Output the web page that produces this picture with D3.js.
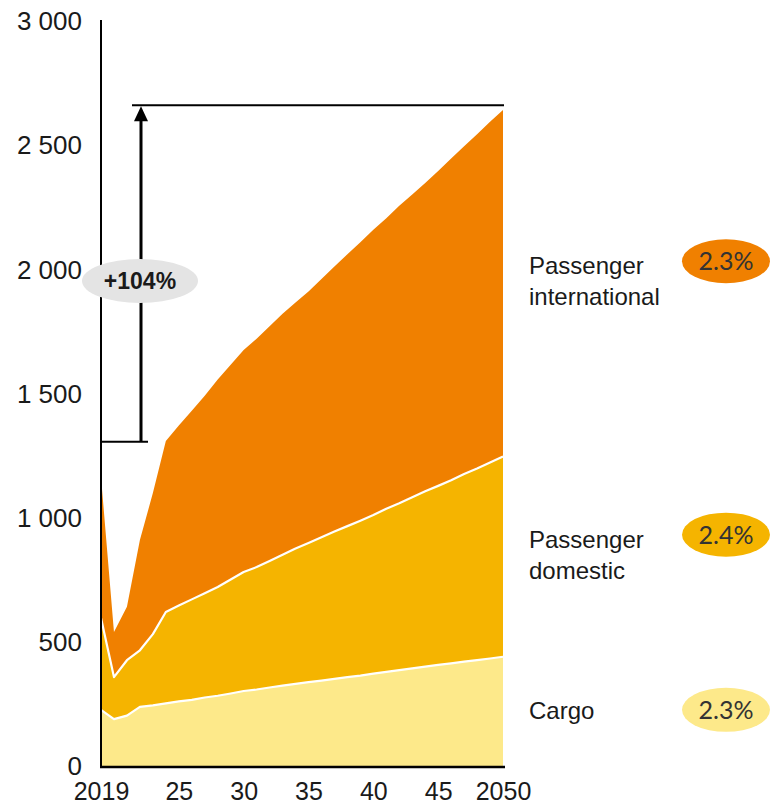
<!DOCTYPE html>
<meta charset="utf-8">
<style>
    html, body { margin:0; padding:0; overflow:hidden; background:#fff }
    text { font-family: Arial, "Liberation Sans", sans-serif; fill:#1a1a1a }
</style>
<svg id="mainsvg" width="770" height="806"></svg>
<script src="https://cdn.jsdelivr.net/npm/d3@7"></script>
<script>

    // values
    var years = d3.range(2019, 2051);

    var cargo = [230, 193, 207, 242, 248, 256, 264, 270, 280, 287, 296, 306, 312, 320, 328, 335,
                 342, 348, 355, 362, 368, 376, 383, 390, 397, 404, 411, 417, 424, 430, 437, 444];

    var domestic = [370, 169, 223, 228, 287, 368, 386, 405, 420, 438, 459, 479, 493, 510, 527, 545,
                    560, 577, 593, 608, 624, 639, 657, 672, 689, 706, 721, 738, 756, 772, 789, 806];

    var international = [568, 182, 215, 444, 568, 689, 725, 760, 795, 835, 865, 894, 920, 945, 970, 990,
                         1013, 1040, 1067, 1095, 1121, 1148, 1170, 1198, 1219, 1242, 1268, 1295, 1320, 1346, 1372, 1396];

    var seriesKeys = ["cargo", "domestic", "international"];
    var seriesLabels = [["Cargo"], ["Passenger", "domestic"], ["Passenger", "international"]];
    var seriesGrowth = ["2.3%", "2.4%", "2.3%"];
    var seriesColors = ["#FDE98A", "#F5B400", "#F08000"];

    var yTicks = [0, 500, 1000, 1500, 2000, 2500, 3000];
    var xTicks = [2019, 2025, 2030, 2035, 2040, 2045, 2050];
    var xTickLabels = ["2019", "25", "30", "35", "40", "45", "2050"];

    var growthFrom = 1310, growthTo = 2665, growthLabel = "+104%";

/*  --  */

    var svg = d3.select("#mainsvg");

    var table = years.map(function(y, i) {
        return { year: y, cargo: cargo[i], domestic: domestic[i], international: international[i] };
    });

    var x = d3.scaleLinear().domain([2019, 2050]).range([101, 503]);
    var y = d3.scaleLinear().domain([0, 3000]).range([767, 22]);

    var stack = d3.stack().keys(seriesKeys);
    var layers = stack(table);

    var area = d3.area()
                .x(function(d) { return x(d.data.year); })
                .y0(function(d) { return y(d[0]); })
                .y1(function(d) { return y(d[1]); });

    var topLine = d3.line()
                .x(function(d) { return x(d.data.year); })
                .y(function(d) { return y(d[1]); });

    svg.selectAll("path.layer")
        .data(layers)
        .enter().append("path")
        .attr("class", "layer")
        .attr("d", area)
        .attr("fill", function(d, i) { return seriesColors[i]; });

    // white separators between bands
    svg.selectAll("path.sep")
        .data(layers.slice(0, 2))
        .enter().append("path")
        .attr("class", "sep")
        .attr("d", topLine)
        .attr("fill", "none")
        .attr("stroke", "#fff")
        .attr("stroke-width", 2.2)
        .attr("stroke-linejoin", "round");

    // axes
    var yAxis = d3.axisLeft(y).tickValues(yTicks).tickSize(0).tickPadding(19)
                    .tickFormat(function(d) { return d3.format(",")(d).replace(",", " "); });
    var gy = svg.append("g").attr("transform", "translate(101,0)").call(yAxis);
    gy.select(".domain").remove();
    gy.selectAll("text").attr("font-size", 26).attr("font-family", null).attr("dy", "0.3em");

    svg.append("line")
        .attr("x1", 101).attr("x2", 101)
        .attr("y1", 20).attr("y2", 768)
        .attr("stroke", "#000").attr("stroke-width", 2);

    var xAxis = d3.axisBottom(x).tickValues(xTicks).tickSize(0).tickPadding(15)
                    .tickFormat(function(d, i) { return xTickLabels[i]; });
    var gx = svg.append("g").attr("transform", "translate(0,767)").call(xAxis);
    gx.select(".domain").remove();
    gx.selectAll("text").attr("font-size", 25).attr("font-family", null);

    svg.append("line")
        .attr("x1", 100).attr("x2", 505)
        .attr("y1", 767).attr("y2", 767)
        .attr("stroke", "#000").attr("stroke-width", 2.5);

    // growth annotation
    var ax = 141;
    svg.append("line")
        .attr("x1", 101).attr("x2", 148)
        .attr("y1", y(growthFrom)).attr("y2", y(growthFrom))
        .attr("stroke", "#000").attr("stroke-width", 2);
    svg.append("line")
        .attr("x1", 132).attr("x2", 504)
        .attr("y1", y(growthTo)).attr("y2", y(growthTo))
        .attr("stroke", "#000").attr("stroke-width", 2);
    svg.append("line")
        .attr("x1", ax).attr("x2", ax)
        .attr("y1", y(growthFrom)).attr("y2", y(growthTo) + 12)
        .attr("stroke", "#000").attr("stroke-width", 3);
    svg.append("path")
        .attr("d", "M" + [ax, y(growthTo) + 1] + "L" + [ax - 7, y(growthTo) + 16] + "L" + [ax + 7, y(growthTo) + 16] + "Z")
        .attr("fill", "#000");

    svg.append("ellipse")
        .attr("cx", 140).attr("cy", 281)
        .attr("rx", 58).attr("ry", 22)
        .attr("fill", "#e4e4e4");
    svg.append("text")
        .attr("x", 140).attr("y", 281)
        .attr("dy", "0.36em")
        .attr("text-anchor", "middle")
        .attr("font-size", 23)
        .attr("font-weight", "bold")
        .text(growthLabel);

    // labels on the right, at the middle of each band in 2050
    var last = table.length - 1;
    var legend = svg.selectAll("g.lbl")
        .data(layers)
        .enter().append("g")
        .attr("class", "lbl")
        .attr("transform", function(d) {
            var mid = (d[last][0] + d[last][1]) / 2;
            return "translate(0," + y(mid) + ")";
        });

    legend.append("text")
        .attr("x", 529)
        .attr("font-size", 24)
        .each(function(d, i) {
            var lines = seriesLabels[i];
            var t = d3.select(this);
            lines.forEach(function(s, j) {
                t.append("tspan")
                    .attr("x", 529)
                    .attr("y", (j - (lines.length - 1) / 2) * 31 - 2)
                    .attr("dy", "0.36em")
                    .text(s);
            });
        });

    legend.append("ellipse")
        .attr("cx", 726)
        .attr("cy", function(d, i) { return seriesLabels[i].length > 1 ? -22 : -2; })
        .attr("rx", 44).attr("ry", 22)
        .attr("fill", function(d, i) { return seriesColors[i]; });

    legend.append("text")
        .attr("x", 726)
        .attr("y", function(d, i) { return seriesLabels[i].length > 1 ? -22 : -2; })
        .attr("dy", "0.36em")
        .attr("text-anchor", "middle")
        .attr("font-size", 25)
        .style("font-family", "Lato, sans-serif")
        .style("fill", "#333")
        .text(function(d, i) { return seriesGrowth[i]; });

</script>
